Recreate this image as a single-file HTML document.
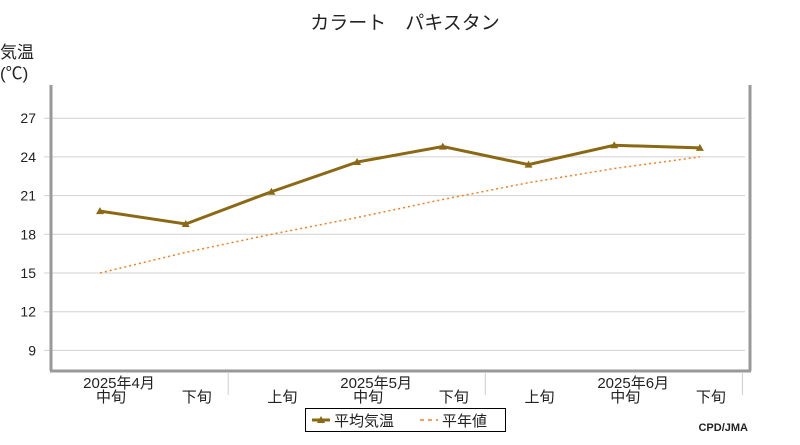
<!DOCTYPE html>
<html><head><meta charset="utf-8"><style>
body{margin:0;background:#fff;}
svg text{font-family:"Liberation Sans","Noto Sans CJK JP",sans-serif;}
</style></head><body>
<svg id="chart" width="800" height="440" xmlns="http://www.w3.org/2000/svg">
<text x="405" y="29" font-size="19" text-anchor="middle" fill="#222">カラート　パキスタン</text>
<text x="0" y="58" font-size="17" fill="#222">気温</text>
<text x="0" y="79" font-size="17" fill="#222">(℃)</text>
<g id="grid"></g>
<g id="ylabels"></g>
<line x1="51" y1="85" x2="51" y2="371" stroke="#999" stroke-width="3"/>
<line x1="50" y1="371" x2="751" y2="371" stroke="#999" stroke-width="3"/>
<line x1="750" y1="85" x2="750" y2="371" stroke="#999" stroke-width="3"/>
<g id="xlabels"></g>
<g id="series"></g>
<g>
<rect x="305.5" y="408.5" width="200" height="23" fill="#fff" stroke="#000"/>
<line x1="312" y1="420" x2="330" y2="420" stroke="#8B6914" stroke-width="3"/>
<path d="M317,423 L321,416 L325,423 Z" fill="#8B6914"/>
<text x="334" y="426" font-size="15" fill="#222">平均気温</text>
<line x1="420" y1="420" x2="438" y2="420" stroke="#f08020" stroke-width="1.5" stroke-dasharray="4,4"/>
<text x="442" y="426" font-size="15" fill="#222">平年値</text>
</g>
<text x="748" y="431" font-size="11" font-weight="bold" text-anchor="end" fill="#222" font-family="Liberation Mono">CPD/JMA</text>
</svg>
<script>
const categories=["中旬","下旬","上旬","中旬","下旬","上旬","中旬","下旬"];
const monthLabels=["2025年4月","2025年5月","2025年6月"];
const meanTemp=[19.8,18.8,21.3,23.6,24.8,23.4,24.9,24.7];
const normalTemp=[15.0,16.6,18.0,19.3,20.7,22.0,23.1,24.0];
const yTicks=[9,12,15,18,21,24,27];
const NS="http://www.w3.org/2000/svg";
const x=i=>100+i*85.7;
const y=v=>273-(v-15)*12.9;
function mk(tag,attrs,parent){const e=document.createElementNS(NS,tag);for(const k in attrs)e.setAttribute(k,attrs[k]);parent.appendChild(e);return e;}
const grid=document.getElementById('grid'),yl=document.getElementById('ylabels'),xl=document.getElementById('xlabels'),ser=document.getElementById('series');
yTicks.forEach(t=>{
 const l=mk('line',{x1:44,x2:745,y1:y(t),y2:y(t),stroke:'#d0d0d0','stroke-width':1},grid);
 
 
 const tx=mk('text',{x:36,y:y(t)+5,'font-size':14,'text-anchor':'end',fill:'#222'},yl);
 tx.textContent=t;
 
 
});
categories.forEach((c,i)=>{
 const t=mk('text',{x:x(i)+11,y:402,'font-size':15,'text-anchor':'middle',fill:'#222'},xl);
 t.textContent=c;
 
 
});
monthLabels.forEach((m,j)=>{
 const t=mk('text',{x:x(j*3)+19,y:388,'font-size':15,'text-anchor':'middle',fill:'#222'},xl);
 t.textContent=m;
 
 
 const sx=x(j*3+1)+42.5;
 const s=mk('line',{x1:sx,x2:sx,y1:372,y2:395,stroke:'#ccc','stroke-width':1},xl);
 
 
});
const np=mk('polyline',{points:normalTemp.map((v,i)=>x(i)+','+y(v)).join(' '),fill:'none',stroke:'#f08020','stroke-width':1.5,'stroke-dasharray':'2,3'},ser);


const mp=mk('polyline',{points:meanTemp.map((v,i)=>x(i)+','+y(v)).join(' '),fill:'none',stroke:'#8B6914','stroke-width':3},ser);


meanTemp.forEach((v,i)=>{
 const px=x(i),py=y(v);
 const p=mk('path',{d:`M${px-4},${py+3} L${px},${py-4} L${px+4},${py+3} Z`,fill:'#8B6914'},ser);
 
 
});
</script>
</body></html>
